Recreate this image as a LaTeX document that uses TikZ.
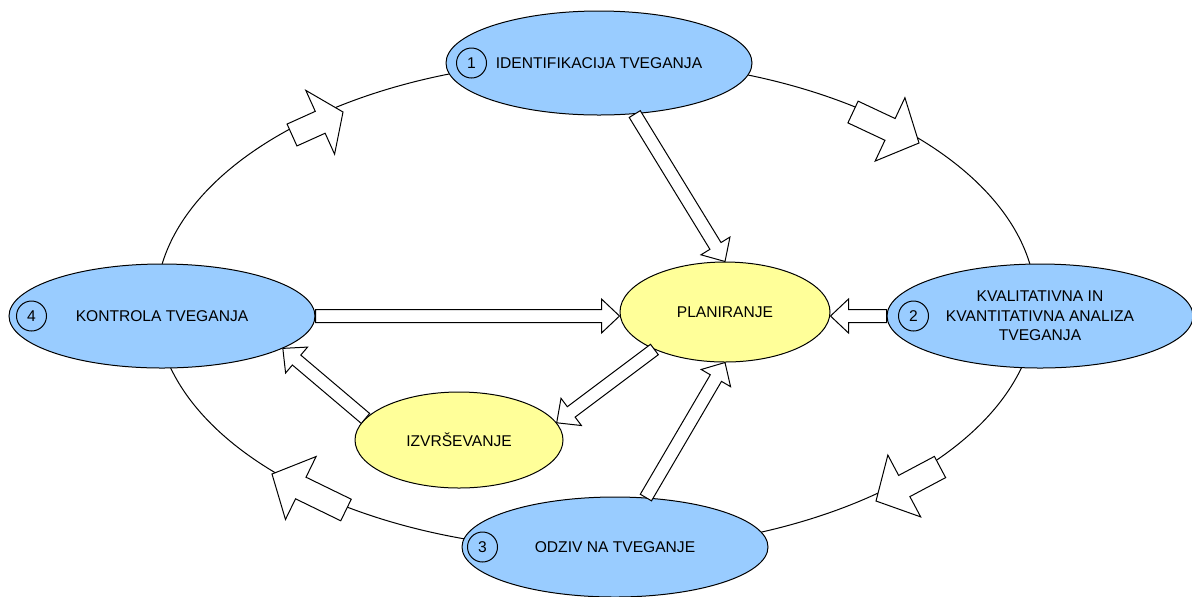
\documentclass[tikz,border=0pt]{standalone}
\usepackage{fontspec}
\setmainfont{Liberation Sans}
\usetikzlibrary{calc,shapes.geometric}

\definecolor{riskblue}{RGB}{153,204,255}
\definecolor{planyellow}{RGB}{255,255,153}

% hollow block arrow: from, to, half shaft, head extension, head length
\newcommand{\hollowarrow}[5]{%
  \draw[hollow] let \p1=(#1), \p2=(#2),
      \n1={atan2(\y2-\y1,\x2-\x1)}, \n2={veclen(\x2-\x1,\y2-\y1)} in
    ($(\p1)+(\n1+90:#3)$) -- ($(\p1)+(\n1:\n2-#5)+(\n1+90:#3)$)
    -- ($(\p1)+(\n1:\n2-#5)+(\n1+90:#3+#4)$) -- (\p2)
    -- ($(\p1)+(\n1:\n2-#5)+(\n1-90:#3+#4)$)
    -- ($(\p1)+(\n1:\n2-#5)+(\n1-90:#3)$)
    -- ($(\p1)+(\n1-90:#3)$) -- cycle;}

\begin{document}
\begin{tikzpicture}[
    x=0.5pt, y=-0.5pt,
    line width=0.5pt,
    font=\fontsize{7.8}{9.75}\selectfont,
    phase/.style={draw, ellipse, fill=riskblue, inner sep=0pt, minimum width=153pt, minimum height=52pt, align=center},
    task/.style={draw, ellipse, fill=planyellow, inner sep=0pt, minimum width=105pt, minimum height=50pt},
    num/.style={draw, circle, inner sep=0pt, minimum size=15pt},
    hollow/.style={draw, fill=white}
]
\useasboundingbox (0,0) rectangle (1192,596);

% outer cycle
\draw (596,305) ellipse [x radius=220pt, y radius=122.5pt];

\node[phase] (ident) at (599,63) {IDENTIFIKACIJA TVEGANJA};
\node[phase] (analiza) at (1040,316) {KVALITATIVNA IN\\KVANTITATIVNA ANALIZA\\TVEGANJA};
\node[phase, minimum height=50pt] (odziv) at (615,547) {ODZIV NA TVEGANJE};
\node[phase] (kontrola) at (162,316) {KONTROLA TVEGANJA};
\node[task] (plan) at (725,312) {PLANIRANJE};
\node[task, minimum width=104pt, minimum height=48pt] (izv) at (459,440) {IZVRŠEVANJE};

\node[num] (n1) at ($(ident.west)+(26,0)$) {1};
\node[num] (n2) at ($(analiza.west)+(27,0)$) {2};
\node[num] (n3) at ($(odziv.west)+(21,0)$) {3};
\node[num] (n4) at ($(kontrola.west)+(23,0)$) {4};

% arrows on the cycle
\coordinate (r1a) at (292,135);
\coordinate (r1b) at (343,112);
\coordinate (r2a) at (853,112);
\coordinate (r2b) at (919,143);
\coordinate (r3a) at (940,467);
\coordinate (r3b) at (876,501);
\coordinate (r4a) at (346,510);
\coordinate (r4b) at (272,474);
\hollowarrow{r1a}{r1b}{6pt}{11.5pt}{12.5pt}
\hollowarrow{r2a}{r2b}{6pt}{11.5pt}{16pt}
\hollowarrow{r3a}{r3b}{6pt}{11.5pt}{16pt}
\hollowarrow{r4a}{r4b}{6pt}{11.5pt}{16pt}

% arrows to and from planning
\hollowarrow{ident.-55}{plan.north}{3.25pt}{5.25pt}{9pt}
\hollowarrow{kontrola.east}{kontrola.east -| plan.west}{3.25pt}{5.25pt}{9pt}
\hollowarrow{analiza.west}{analiza.west -| plan.east}{3.25pt}{5.25pt}{9pt}
\hollowarrow{plan.208}{izv.10}{3.25pt}{5.25pt}{9pt}
\hollowarrow{odziv.58}{plan.south}{3.25pt}{5.25pt}{9pt}
\hollowarrow{izv.167}{kontrola.-15}{3.25pt}{5.25pt}{9pt}
\end{tikzpicture}
\end{document}
